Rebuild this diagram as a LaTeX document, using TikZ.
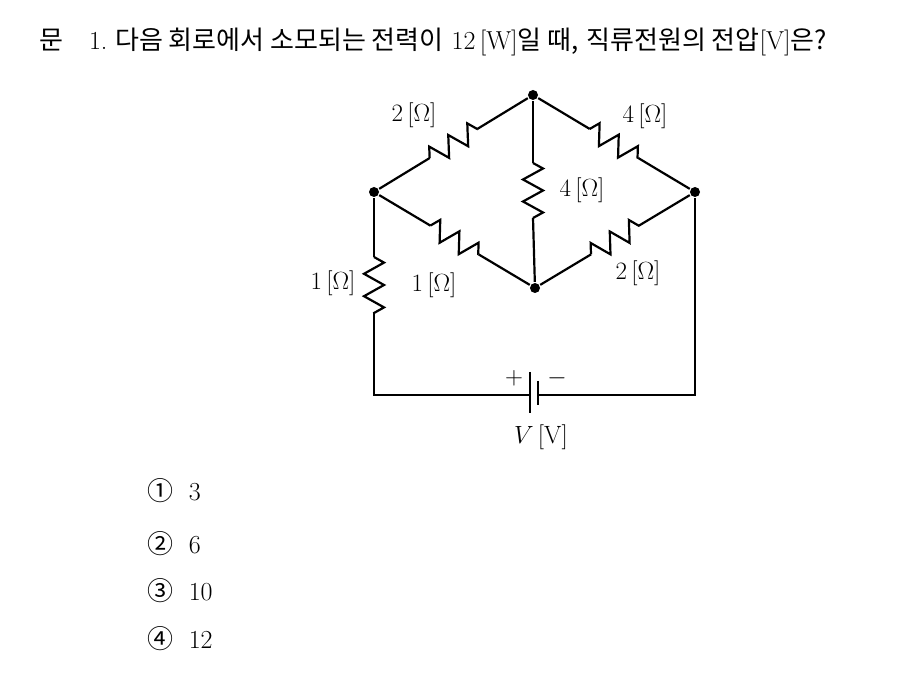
\documentclass[tikz,border=0pt]{standalone}
\usepackage{fontspec}
\newfontfamily\cjk{Noto Sans CJK KR}
\usetikzlibrary{decorations.pathmorphing,calc}
\begin{document}
\begin{tikzpicture}[x=1pt,y=-1pt,line width=2.2pt,
  res/.style={decorate,decoration={zigzag,segment length=#1,amplitude=10pt}},
  dot/.style={circle,fill,inner sep=0pt,minimum size=10pt},
  lbl/.style={font=\fontsize{25}{25}\selectfont,inner sep=0pt},
  txt/.style={font=\fontsize{26}{26}\selectfont,anchor=base west,inner sep=0pt}]
\useasboundingbox (0,0) rectangle (911,676);
\node[dot] (T) at (533,95) {};
\node[dot] (L) at (374,192) {};
\node[dot] (R) at (695,192) {};
\node[dot] (B) at (535,288) {};
\coordinate (BL) at (374,395);
\coordinate (BR) at (695,395);
\coordinate (P1) at (530,395);
\coordinate (P2) at (538,395);
\foreach \a/\b in {L/T, T/R, L/B, B/R}{
  \draw (\a) -- ($(\a)!0.35!(\b)$);
  \draw[res=22.3pt] ($(\a)!0.35!(\b)$) -- ($(\a)!0.65!(\b)$);
  \draw ($(\a)!0.65!(\b)$) -- (\b);
}
\draw (T) -- (533,163);
\draw[res=22pt] (533,163) -- (533,218);
\draw (533,218) -- (B);
\draw (L) -- (374,257);
\draw[res=22.4pt] (374,257) -- (374,313);
\draw (374,313) -- (BL) -- (P1);
\draw (P2) -- (BR) -- (R);
\draw (530,372) -- (530,413);
\draw (538,381) -- (538,405);
\node[lbl] (l1) at (414,115) {2\,[$\Omega$]};
\node[lbl] (l2) at (645,116) {4\,[$\Omega$]};
\node[lbl] (l3) at (582,190) {4\,[$\Omega$]};
\node[lbl] (l4) at (333,283) {1\,[$\Omega$]};
\node[lbl] (l5) at (434,285) {1\,[$\Omega$]};
\node[lbl] (l6) at (638,273) {2\,[$\Omega$]};
\node[lbl] (pl) at (514,378) {$+$};
\node[lbl] (mi) at (557,378) {$-$};
\node[lbl] (vv) at (541,437) {$V$\,[V]};
\node[txt] (title) at (38,50) {{\cjk 문}\hspace{1em}1.\ {\cjk 다음 회로에서 소모되는 전력이} 12\,[W]{\cjk 일 때,} {\cjk 직류전원의 전압}[V]{\cjk 은?}};
\node[txt] (o1) at (146,500) {{\cjk ①}\ \ 3};
\node[txt] (o2) at (146,553) {{\cjk ②}\ \ 6};
\node[txt] (o3) at (146,600) {{\cjk ③}\ \ 10};
\node[txt] (o4) at (146,648) {{\cjk ④}\ \ 12};
\end{tikzpicture}
\end{document}
